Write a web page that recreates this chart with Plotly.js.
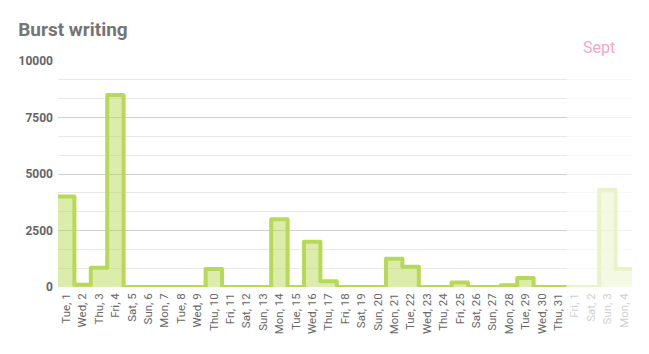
<!DOCTYPE html>
<html>
<head>
<meta charset="utf-8">
<script src="https://cdn.plot.ly/plotly-3.0.1.min.js"></script>
<style>html,body{margin:0;padding:0;background:#fff}#chart{width:649px;height:354px}
.js-line{stroke-linejoin:round !important;}</style>
</head>
<body>
<div id="chart"></div>
<script>
const dayLabels = ["Tue, 1","Wed, 2","Thu, 3","Fri, 4","Sat, 5","Sun, 6","Mon, 7","Tue, 8","Wed, 9","Thu, 10","Fri, 11","Sat, 12","Sun, 13","Mon, 14","Tue, 15","Wed, 16","Thu, 17","Fri, 18","Sat, 19","Sun, 20","Mon, 21","Tue, 22","Wed, 23","Thu, 24","Fri, 25","Sat, 26","Sun, 27","Mon, 28","Tue, 29","Wed, 30","Thu, 31","Fri, 1","Sat, 2","Sun, 3","Mon, 4"];
const words = [4000,100,850,8500,0,0,0,0,0,800,0,0,0,3000,0,2000,250,0,0,0,1250,900,0,0,200,0,0,80,400,0,0,0,0,4300,800];
const septStart = 31; // index of first September day
const yTicks = [0,2500,5000,7500,10000];

// step edges: each day spans [i-0.5, i+0.5]
const xs = [], ys = [];
words.forEach((v,i)=>{ xs.push(i-0.5); ys.push(v); });
xs.push(words.length-0.5); ys.push(words[words.length-1]);

const ticktext = dayLabels.map((t,i)=> i>=septStart ? '<span style="color:#d0d0d0">'+t+'</span>' : t);

const trace = {
  x: xs, y: ys, type:'scatter', mode:'lines',
  line:{shape:'hv', color:'#b7d957', width:4},
  fill:'tozeroy', fillcolor:'rgba(183,217,87,0.5)',
  cliponaxis:false, hoverinfo:'skip'
};

const layout = {
  width:649, height:354,
  margin:{l:58, r:17, t:61, b:67},
  paper_bgcolor:'#fff', plot_bgcolor:'#fff',
  showlegend:false,
  title:{text:'Burst writing', x:0.028, xanchor:'left', y:0.918, yanchor:'middle',
         font:{family:'Roboto', size:19, color:'#747474', weight:'bold'}},
  xaxis:{range:[-0.5, words.length-0.5], tickmode:'array',
         tickvals:dayLabels.map((_,i)=>i), ticktext:ticktext, tickangle:-90,
         tickfont:{family:'Roboto', size:11.5, color:'#666'}, ticklabelstandoff:3,
         showgrid:false, zeroline:false, showline:false, ticks:'', fixedrange:true},
  yaxis:{range:[0,10000], tickmode:'array', tickvals:yTicks, ticktext:yTicks.map(String),
         tickfont:{family:'Roboto', size:12, color:'#666', weight:'bold'},
         showgrid:true, gridcolor:'#cfcfcf', gridwidth:1, zeroline:false, showline:false,
         ticks:'', ticklabelstandoff:4,
         minor:{dtick:2500/3, tick0:0, showgrid:true, gridcolor:'#e8e8e8', gridwidth:1}},
  shapes:[{type:'rect', xref:'x', yref:'paper', x0:septStart-0.5, x1:words.length-0.5, y0:-0.01, y1:1.01,
           fillcolor:'rgba(255,255,255,0.68)', line:{width:0}, layer:'above'}],
  annotations:[{text:'Sept', xref:'x', yref:'paper', x:(septStart-0.5+words.length-0.5)/2, y:1.06,
                xanchor:'center', yanchor:'middle', showarrow:false,
                font:{family:'Roboto', size:16, color:'#f4a7c9'}}]
};

Plotly.newPlot('chart',[trace],layout,{displayModeBar:false, staticPlot:true});
</script>
</body>
</html>
